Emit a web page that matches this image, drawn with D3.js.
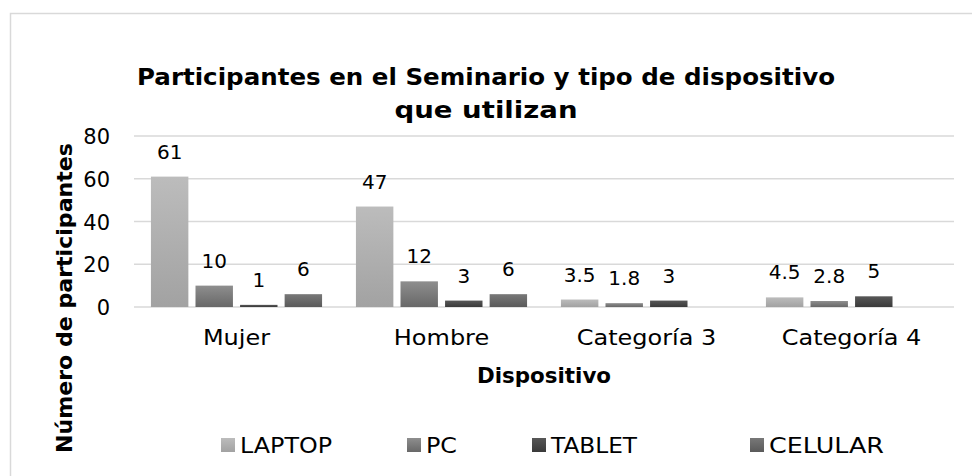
<!DOCTYPE html>
<html>
<head>
<meta charset="utf-8">
<script src="https://cdn.jsdelivr.net/npm/d3@7"></script>
<style>
  body { margin: 0; background: #fff; }
  text { font-family: "DejaVu Sans", sans-serif; fill: #000; }
</style>
</head>
<body>
<div id="container"></div>
<script>
var width = 972;
var height = 476;

// data
var categories = ["Mujer", "Hombre", "Categoría 3", "Categoría 4"];
var series = ["LAPTOP", "PC", "TABLET", "CELULAR"];
var laptop = [61, 47, 3.5, 4.5];
var pc = [10, 12, 1.8, 2.8];
var tablet = [1, 3, 3, 5];
var celular = [6, 6, null, null];
var yTicks = [0, 20, 40, 60, 80];

var values = [laptop, pc, tablet, celular];
// gradient top / bottom per series
var colors = [["#bcbcbc", "#a2a2a2"], ["#8e8e8e", "#686868"], ["#575757", "#3a3a3a"], ["#787878", "#5a5a5a"]];

var plot = {left: 134, right: 954, top: 136, bottom: 307};
// legend layout (reference is Montserrat, so widths are forced)
var legendX = [221, 407, 532, 750];
var legendW = [92, 31, 86, 115];

var svg = d3.select("#container")
  .append("svg")
  .attr("width", width)
  .attr("height", height);

// stretch DejaVu a bit to get close to the wider original font
function widen(sel, k) {
  sel.each(function() {
    var w = this.getComputedTextLength();
    d3.select(this).attr("textLength", w * k).attr("lengthAdjust", "spacingAndGlyphs");
  });
}

var defs = svg.append("defs");
series.forEach(function(s, i) {
  var g = defs.append("linearGradient")
    .attr("id", "grad" + i)
    .attr("x1", 0).attr("y1", 0).attr("x2", 0).attr("y2", 1);
  g.append("stop").attr("offset", "0%").attr("stop-color", colors[i][0]);
  g.append("stop").attr("offset", "100%").attr("stop-color", colors[i][1]);
});

// chart border (cropped on right / bottom)
svg.append("rect")
  .attr("x", 10.5).attr("y", 13.5)
  .attr("width", width).attr("height", height)
  .attr("fill", "none")
  .attr("stroke", "#d9d9d9")
  .attr("stroke-width", 1.5);

var x0 = d3.scaleBand()
  .domain(categories)
  .range([plot.left, plot.right]);

var x1 = d3.scaleBand()
  .domain(series)
  .range([0, x0.bandwidth()])
  .paddingInner(0.16)
  .paddingOuter(0.38);

var y = d3.scaleLinear()
  .domain([0, 80])
  .range([plot.bottom, plot.top]);

// gridlines
svg.append("g")
  .selectAll("line")
  .data(yTicks)
  .enter().append("line")
  .attr("x1", plot.left).attr("x2", plot.right)
  .attr("y1", function(d) { return y(d); })
  .attr("y2", function(d) { return y(d); })
  .attr("stroke", "#d9d9d9")
  .attr("stroke-width", 1.3);

// y axis labels
var yAxis = svg.append("g")
  .attr("transform", "translate(" + (plot.left - 24) + ",0)")
  .call(d3.axisLeft(y).tickValues(yTicks).tickSize(0).tickPadding(0));
yAxis.select(".domain").remove();
yAxis.selectAll("text")
  .style("font-family", "DejaVu Sans")
  .style("font-size", "21px")
  .attr("fill", "#000")
  .attr("dy", "0.36em");

// x axis labels
var xAxis = svg.append("g")
  .attr("transform", "translate(0," + plot.bottom + ")")
  .call(d3.axisBottom(x0).tickSize(0).tickPadding(0));
xAxis.select(".domain").remove();
xAxis.selectAll("text")
  .style("font-family", "DejaVu Sans")
  .style("font-size", "22px")
  .attr("fill", "#000")
  .attr("y", 0)
  .attr("dy", "38px")
  .call(widen, 1.09);

// bars
var groups = svg.append("g")
  .selectAll("g")
  .data(categories)
  .enter().append("g")
  .attr("transform", function(d) { return "translate(" + x0(d) + ",0)"; });

var cells = groups.selectAll("g")
  .data(function(d, ci) {
    return series.map(function(s, si) { return {s: s, si: si, v: values[si][ci]}; })
      .filter(function(e) { return e.v != null; });
  })
  .enter().append("g");

cells.append("rect")
  .attr("x", function(d) { return x1(d.s); })
  .attr("width", x1.bandwidth())
  .attr("y", function(d) { return y(d.v); })
  .attr("height", function(d) { return y(0) - y(d.v); })
  .attr("fill", function(d) { return "url(#grad" + d.si + ")"; });

cells.append("text")
  .attr("x", function(d) { return x1(d.s) + x1.bandwidth() / 2; })
  .attr("y", function(d) { return y(d.v) - 18; })
  .attr("text-anchor", "middle")
  .style("font-size", "20px")
  .text(function(d) { return d.v; });

// title
var title = svg.append("text")
  .attr("text-anchor", "middle")
  .style("font-size", "23px")
  .style("font-weight", "bold");
title.append("tspan").attr("x", 486).attr("y", 85)
  .attr("textLength", 698).attr("lengthAdjust", "spacingAndGlyphs")
  .text("Participantes en el Seminario y tipo de dispositivo");
title.append("tspan").attr("x", 486).attr("y", 118)
  .attr("textLength", 183).attr("lengthAdjust", "spacingAndGlyphs")
  .text("que utilizan");

// axis titles
svg.append("text")
  .attr("x", (plot.left + plot.right) / 2)
  .attr("y", 383)
  .attr("text-anchor", "middle")
  .style("font-size", "21px")
  .style("font-weight", "bold")
  .attr("textLength", 134).attr("lengthAdjust", "spacingAndGlyphs")
  .text("Dispositivo");

svg.append("text")
  .attr("transform", "translate(72,298) rotate(-90)")
  .attr("text-anchor", "middle")
  .style("font-size", "21px")
  .style("font-weight", "bold")
  .attr("textLength", 310).attr("lengthAdjust", "spacingAndGlyphs")
  .text("Número de participantes");

// legend
var legend = svg.append("g")
  .selectAll("g")
  .data(series)
  .enter().append("g")
  .attr("transform", function(d, i) { return "translate(" + legendX[i] + ",438)"; });

legend.append("rect")
  .attr("width", 14).attr("height", 14)
  .attr("fill", function(d, i) { return "url(#grad" + i + ")"; });

legend.append("text")
  .attr("x", 19)
  .attr("y", 15)
  .style("font-size", "21px")
  .attr("textLength", function(d, i) { return legendW[i]; })
  .attr("lengthAdjust", "spacingAndGlyphs")
  .text(function(d) { return d; });
</script>
</body>
</html>
